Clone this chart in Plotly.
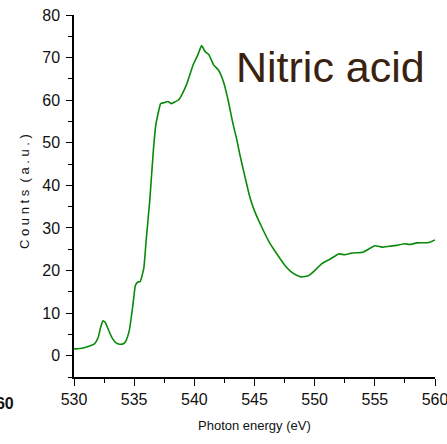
import plotly.graph_objects as go

energy = [530.0, 530.5, 531.0, 531.3, 531.7, 532.0, 532.2, 532.4, 532.6, 532.9, 533.2, 533.5, 533.8, 534.1, 534.3,
          534.6, 534.9, 535.1, 535.3, 535.5, 535.8, 536.0, 536.3, 536.6, 536.8, 537.0, 537.2, 537.5, 537.8, 538.1,
          538.4, 538.7, 539.0, 539.4, 539.9, 540.3, 540.6, 540.9, 541.2, 541.6, 542.0, 542.4, 542.8, 543.2, 543.5,
          543.8, 544.2, 544.6, 545.0, 545.5, 546.2, 546.6, 547.1, 547.5, 548.0, 548.5, 548.9, 549.5, 550.0, 550.6,
          551.3, 552.0, 552.5, 553.1, 554.0, 555.0, 555.6, 556.2, 556.8, 557.5, 557.9, 558.5, 559.5, 560.0]
counts = [1.6, 1.7, 2.0, 2.3, 2.8, 4.2, 6.5, 8.2, 7.8, 5.8, 4.0, 3.0, 2.7, 2.8, 3.4,
          6.0, 12.0, 16.5, 17.3, 17.4, 20.5, 27.2, 36.6, 48.4, 54.2, 57.0, 59.2, 59.4, 59.7, 59.2,
          59.6, 60.1, 61.5, 64.0, 68.3, 70.7, 72.8, 71.4, 70.7, 68.3, 67.1, 64.5, 60.1, 54.6, 51.1,
          47.0, 42.1, 37.4, 34.0, 30.8, 26.8, 25.0, 22.9, 21.3, 19.8, 18.9, 18.5, 18.8, 20.0, 21.6,
          22.7, 23.9, 23.7, 24.1, 24.3, 25.8, 25.5, 25.7, 25.9, 26.3, 26.1, 26.5, 26.6, 27.2]

x_ticks = [530, 535, 540, 545, 550, 555, 560]
y_ticks = [0, 10, 20, 30, 40, 50, 60, 70, 80]

FONT = "Liberation Sans, Arial, sans-serif"

fig = go.Figure()
fig.add_trace(go.Scatter(x=energy, y=counts, mode="lines",
                         line=dict(color="#0a8a0a", width=1.6, shape="spline", smoothing=0.4),
                         hoverinfo="skip", showlegend=False))

fig.update_layout(
    width=447, height=444,
    margin=dict(l=74, r=12, t=15, b=67),
    paper_bgcolor="white", plot_bgcolor="white",
    font=dict(family=FONT, color="#111111"),
    xaxis=dict(range=[530, 560], tickvals=x_ticks, ticks="outside", ticklen=7, tickwidth=1,
               tickcolor="black", showline=True, linecolor="black", linewidth=1.5,
               showgrid=False, zeroline=False, tickfont=dict(size=16, family=FONT),
               ticklabeloverflow="allow", automargin=False,
               minor=dict(tickvals=[532.5, 537.5, 542.5, 547.5, 552.5, 557.5], ticks="outside",
                          ticklen=4, tickcolor="black", showgrid=False)),
    yaxis=dict(range=[-5, 80], tickvals=y_ticks, ticks="outside", ticklen=6, tickwidth=1,
               tickcolor="black", showline=True, linecolor="black", linewidth=1.5,
               showgrid=False, zeroline=False, tickfont=dict(size=16, family=FONT),
               automargin=False, ticklabelstandoff=3,
               minor=dict(dtick=5, tick0=0, ticks="outside", ticklen=4, tickcolor="black", showgrid=False)),
    annotations=[
        dict(text="Nitric acid", x=551.3, y=67.8, xref="x", yref="y", showarrow=False,
             font=dict(size=43, color="#3a2210", family=FONT)),
        dict(text="Photon energy (eV)", x=0.5, y=-0.135, xref="paper", yref="paper", showarrow=False,
             xanchor="center", yanchor="middle", font=dict(size=13, family=FONT, color="#111111")),
        dict(text="C o u n t s  ( a . u . )", x=-0.1385, y=0.511, xref="paper", yref="paper", showarrow=False,
             xanchor="center", yanchor="middle",
             textangle=-90, font=dict(size=13, family=FONT, color="#111111")),
        dict(text="<b>560</b>", x=-0.16, y=-0.072, xref="paper", yref="paper", showarrow=False,
             xanchor="right", yanchor="middle", font=dict(size=16, family=FONT, color="#111111")),
    ],
)

fig.write_html("out.html")
